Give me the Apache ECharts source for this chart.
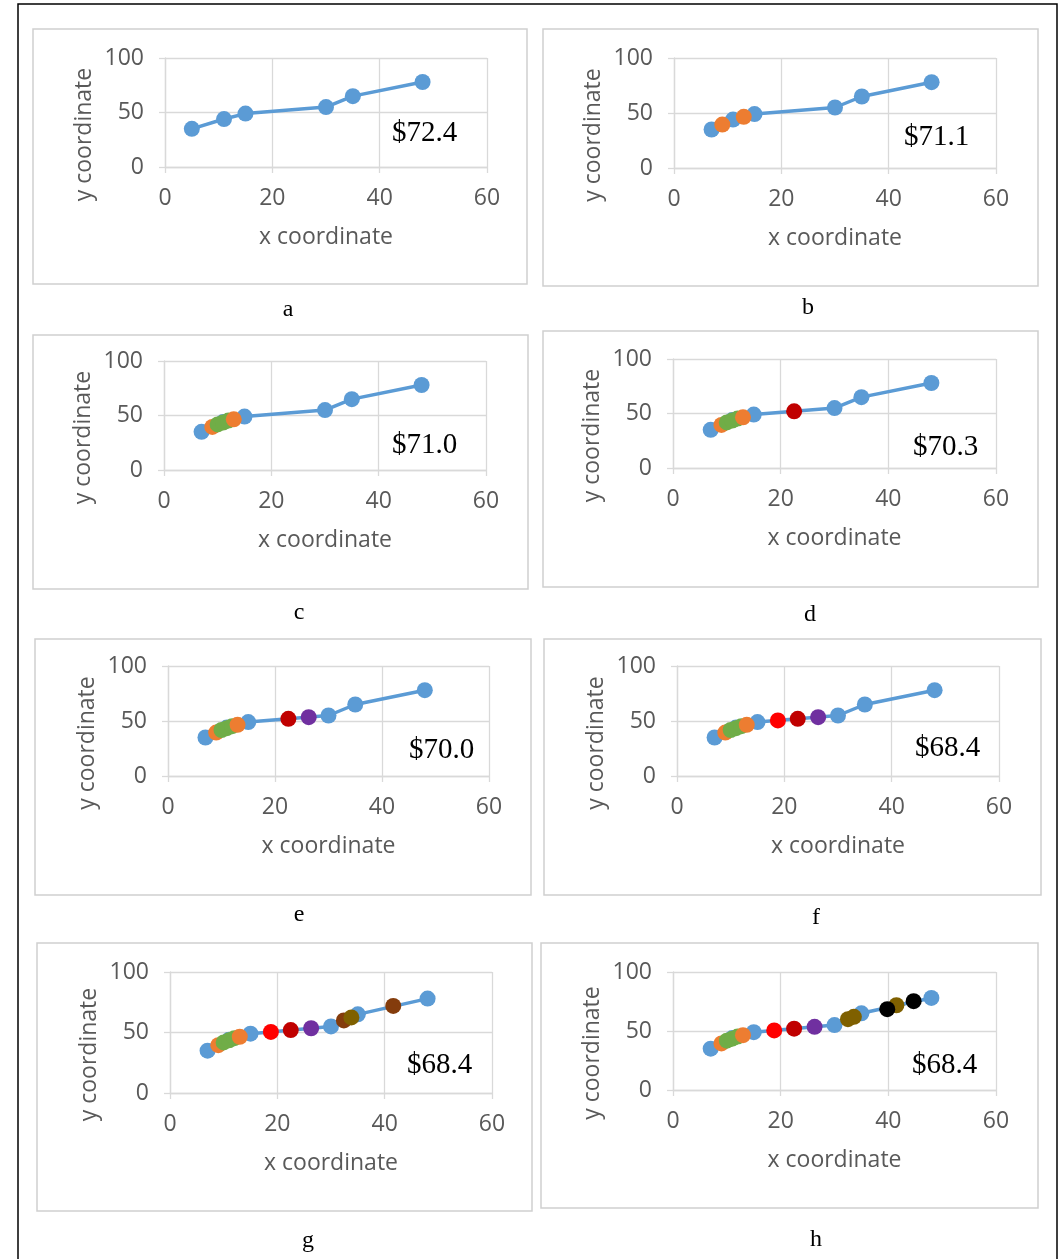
<!DOCTYPE html>
<html>
<head>
<meta charset="utf-8">
<script src="https://cdn.jsdelivr.net/npm/echarts/dist/echarts.min.js"></script>
<style>
  html, body { margin: 0; padding: 0; background: #ffffff; }
  #chart { width: 1060px; height: 1259px; }
</style>
</head>
<body>
<div id="chart"></div>
<script>
// ---- data ----
const xTicks = [0, 20, 40, 60];
const yTicks = [0, 50, 100];

// route through the original stops (panel a starts at x = 5, later panels at x = 7)
const routeA = [[5, 35], [11, 44], [15, 49], [30, 55], [35, 65], [48, 78]];
const routeB = [[7, 35], [11, 44], [15, 49], [30, 55], [35, 65], [48, 78]];

// stops added step by step
const orangeStops = [[9, 39.5], [13, 46.5]];
const greenStops = [[10, 41.8], [11, 43.5], [12, 45.3]];
const darkRedStops = [[22.5, 52]];
const purpleStops = [[26.3, 53.5]];
const redStops = [[18.8, 50.5]];
const brownStopsG = [[32.4, 60], [41.6, 72]];
const oliveStopsG = [[33.8, 62.5]];
const oliveStopsH = [[32.5, 60], [33.6, 62], [41.5, 71.8]];
const blackStopsH = [[39.8, 68.5], [44.7, 75.3]];

const costLabels = ['$72.4', '$71.1', '$71.0', '$70.3', '$70.0', '$68.4', '$68.4', '$68.4'];
const panelLetters = ['a', 'b', 'c', 'd', 'e', 'f', 'g', 'h'];

// ---- colours ----
const C = {
  blue: '#5B9BD5', orange: '#ED7D31', green: '#70AD47', darkRed: '#C00000',
  purple: '#7030A0', red: '#FF0000', brown: '#843C0C', olive: '#7F6000', black: '#000000'
};

// which extra stops each panel shows, in drawing order
const panelStops = [
  [],
  [[orangeStops, C.orange]],
  [[orangeStops.slice(0, 1), C.orange], [greenStops, C.green], [orangeStops.slice(1), C.orange]],
  [[orangeStops.slice(0, 1), C.orange], [greenStops, C.green], [orangeStops.slice(1), C.orange], [darkRedStops, C.darkRed]],
  [[orangeStops.slice(0, 1), C.orange], [greenStops, C.green], [orangeStops.slice(1), C.orange], [darkRedStops, C.darkRed], [purpleStops, C.purple]],
  [[orangeStops.slice(0, 1), C.orange], [greenStops, C.green], [orangeStops.slice(1), C.orange], [redStops, C.red], [darkRedStops, C.darkRed], [purpleStops, C.purple]],
  [[orangeStops.slice(0, 1), C.orange], [greenStops, C.green], [orangeStops.slice(1), C.orange], [redStops, C.red], [darkRedStops, C.darkRed], [purpleStops, C.purple], [brownStopsG, C.brown], [oliveStopsG, C.olive]],
  [[orangeStops.slice(0, 1), C.orange], [greenStops, C.green], [orangeStops.slice(1), C.orange], [redStops, C.red], [darkRedStops, C.darkRed], [purpleStops, C.purple], [oliveStopsH, C.olive], [blackStopsH, C.black]]
];
const panelRoutes = [routeA, routeB, routeB, routeB, routeB, routeB, routeB, routeB];

// ---- layout (px) ----
const layout = [
  { grid: [165, 58, 322, 109], frame: [33, 29, 494, 255], cost: [392, 133], letter: [288, 310] },
  { grid: [674, 58, 322, 110], frame: [543, 29, 495, 257], cost: [904, 137], letter: [808, 308] },
  { grid: [164, 361, 322, 109], frame: [33, 335, 495, 254], cost: [392, 445], letter: [299, 613] },
  { grid: [673, 359, 323, 109], frame: [543, 331, 495, 256], cost: [913, 447], letter: [810, 615] },
  { grid: [168, 666, 321, 110], frame: [35, 639, 496, 256], cost: [409, 750], letter: [299, 915] },
  { grid: [677, 666, 322, 110], frame: [544, 639, 497, 256], cost: [915, 748], letter: [816, 918] },
  { grid: [170, 972, 322, 121], frame: [37, 943, 495, 268], cost: [407, 1065], letter: [308, 1241] },
  { grid: [673, 972, 323, 118], frame: [541, 943, 497, 265], cost: [912, 1065], letter: [816, 1240] }
];

const GRID_COLOR = '#d9d9d9';
const LABEL_COLOR = '#595959';
const SANS = '"Open Sans", "Noto Sans", sans-serif';
const SERIF = '"Liberation Serif", "DejaVu Serif", serif';
const DOT = 16;

const grids = [], xAxes = [], yAxes = [], series = [], graphics = [];

// outer border of the figure
graphics.push({
  type: 'rect', shape: { x: 18, y: 4, width: 1039, height: 1300 },
  style: { fill: 'none', stroke: '#000', lineWidth: 1.5 }, z: 0
});

layout.forEach((L, i) => {
  const [gl, gt, gw, gh] = L.grid;
  grids.push({ left: gl, top: gt, width: gw, height: gh, containLabel: false });

  const axisCommon = {
    type: 'value',
    gridIndex: i,
    axisLine: { show: true, lineStyle: { color: GRID_COLOR, width: 1.3 } },
    axisTick: { show: true, length: 6, lineStyle: { color: GRID_COLOR, width: 1.3 } },
    splitLine: { show: true, lineStyle: { color: GRID_COLOR, width: 1.3 } },
    axisLabel: { color: LABEL_COLOR, fontFamily: SANS, fontSize: 23 },
    nameTextStyle: { color: LABEL_COLOR, fontFamily: SANS, fontSize: 23 }
  };
  xAxes.push(Object.assign({}, axisCommon, {
    min: xTicks[0], max: xTicks[xTicks.length - 1], interval: xTicks[1] - xTicks[0],
    name: 'x coordinate', nameLocation: 'middle', nameGap: 59,
    axisLabel: Object.assign({}, axisCommon.axisLabel, { margin: 20 })
  }));
  yAxes.push(Object.assign({}, axisCommon, {
    min: yTicks[0], max: yTicks[yTicks.length - 1], interval: yTicks[1] - yTicks[0],
    name: 'y coordinate', nameLocation: 'middle', nameGap: 69,
    axisLabel: Object.assign({}, axisCommon.axisLabel, { margin: 21 }),
    nameTextStyle: Object.assign({}, axisCommon.nameTextStyle, { padding: [0, 44, 0, 0] })
  }));

  // the route
  series.push({
    type: 'line', xAxisIndex: i, yAxisIndex: i,
    data: panelRoutes[i],
    symbol: 'circle', symbolSize: DOT,
    lineStyle: { color: C.blue, width: 3.5 },
    itemStyle: { color: C.blue },
    silent: true, animation: false, z: 2
  });

  // added stops
  panelStops[i].forEach(([pts, col], k) => {
    series.push({
      type: 'scatter', xAxisIndex: i, yAxisIndex: i,
      data: pts, symbol: 'circle', symbolSize: DOT,
      itemStyle: { color: col, opacity: 1 },
      silent: true, animation: false, z: 3 + k * 0.01
    });
  });

  // panel frame
  const [fx, fy, fw, fh] = L.frame;
  graphics.push({
    type: 'rect', shape: { x: fx, y: fy, width: fw, height: fh },
    style: { fill: 'none', stroke: '#d0d0d0', lineWidth: 1.5 }, z: 0
  });
  // cost of the route
  graphics.push({
    type: 'text', x: L.cost[0], y: L.cost[1],
    style: { text: costLabels[i], fill: '#000', font: '29px ' + SERIF, textAlign: 'left', textVerticalAlign: 'middle' },
    z: 10
  });
  // panel letter
  graphics.push({
    type: 'text', x: L.letter[0], y: L.letter[1],
    style: { text: panelLetters[i], fill: '#000', font: '24px ' + SERIF, textAlign: 'center', textVerticalAlign: 'middle' },
    z: 10
  });
});

const chart = echarts.init(document.getElementById('chart'), null, { renderer: 'canvas' });
chart.setOption({
  animation: false,
  backgroundColor: '#ffffff',
  grid: grids,
  xAxis: xAxes,
  yAxis: yAxes,
  series: series,
  graphic: graphics
});
</script>
</body>
</html>
